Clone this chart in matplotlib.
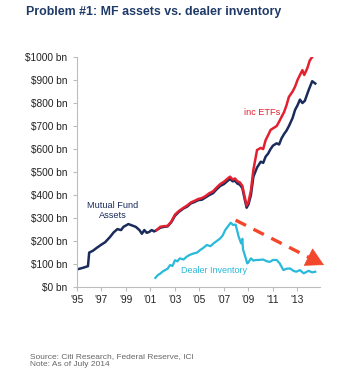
import matplotlib
matplotlib.use("Agg")
import matplotlib.pyplot as plt

plt.rcParams['font.family'] = ['Liberation Sans', 'DejaVu Sans']

# ---------------- data ----------------
mf_years = [1995.0, 1995.5, 1995.9, 1996.0, 1996.3, 1996.6, 1997.0, 1997.3, 1997.7, 1998.0,
            1998.3, 1998.6, 1998.8, 1999.2, 1999.5, 1999.8, 2000.1, 2000.3, 2000.5, 2000.7,
            2000.9, 2001.1, 2001.3, 2001.5, 2001.8, 2002.1, 2002.4, 2002.7, 2003.0, 2003.3,
            2003.7, 2004.0, 2004.3, 2004.6, 2004.9, 2005.2, 2005.5, 2005.8, 2006.1, 2006.4,
            2006.7, 2007.0, 2007.3, 2007.5, 2007.7, 2007.9, 2008.1, 2008.3, 2008.5, 2008.7,
            2008.85, 2009.0, 2009.2, 2009.4, 2009.7, 2010.0, 2010.2, 2010.4, 2010.6, 2010.8,
            2011.0, 2011.3, 2011.5, 2011.7, 2011.9, 2012.1, 2012.3, 2012.6, 2012.8, 2013.0,
            2013.2, 2013.4, 2013.6, 2013.9, 2014.2, 2014.45]
mf_values = [77, 84, 91, 150, 158, 170, 185, 195, 218, 238,
             252, 248, 262, 274, 268, 262, 248, 232, 248, 236,
             240, 248, 242, 248, 258, 262, 264, 282, 310, 326,
             342, 350, 364, 370, 378, 380, 390, 400, 408, 425,
             440, 448, 462, 470, 460, 462, 450, 445, 430, 380,
             345, 360, 400, 480, 520, 545, 540, 567, 580, 600,
             615, 625, 620, 647, 665, 680, 700, 735, 770, 790,
             815, 800, 810, 855, 895, 885]

etf_years = [2001.5, 2001.8, 2002.1, 2002.4, 2002.7, 2003.0, 2003.3, 2003.7, 2004.0, 2004.3,
             2004.6, 2004.9, 2005.2, 2005.5, 2005.8, 2006.1, 2006.4, 2006.7, 2007.0, 2007.3,
             2007.5, 2007.7, 2007.9, 2008.1, 2008.3, 2008.5, 2008.7, 2008.85, 2009.0, 2009.2,
             2009.4, 2009.7, 2010.0, 2010.2, 2010.4, 2010.6, 2010.8, 2011.0, 2011.3, 2011.5,
             2011.7, 2011.9, 2012.1, 2012.3, 2012.6, 2012.8, 2013.0, 2013.2, 2013.4, 2013.55,
             2013.8, 2014.0, 2014.2]
etf_values = [248, 262, 265, 266, 285, 315, 330, 345, 355, 368,
              375, 383, 387, 396, 408, 416, 433, 448, 458, 472,
              480, 468, 472, 460, 455, 440, 390, 355, 370, 420,
              510, 596, 605, 600, 639, 660, 683, 690, 700, 719,
              740, 760, 790, 827, 850, 871, 900, 922, 943, 922,
              951, 985, 1000]

dealer_years = [2001.4, 2001.6, 2001.8, 2002.0, 2002.2, 2002.4, 2002.6, 2002.8, 2003.0, 2003.2,
                2003.4, 2003.7, 2003.95, 2004.2, 2004.5, 2004.8, 2005.05, 2005.3, 2005.6, 2005.9,
                2006.15, 2006.4, 2006.7, 2006.9, 2007.1, 2007.3, 2007.55, 2007.75, 2007.95, 2008.2,
                2008.4, 2008.5, 2008.55, 2008.7, 2008.9, 2009.0, 2009.2, 2009.4, 2009.6, 2009.85,
                2010.2, 2010.5, 2010.75, 2011.0, 2011.3, 2011.55, 2011.85, 2012.1, 2012.4, 2012.7,
                2012.9, 2013.2, 2013.5, 2013.7, 2013.9, 2014.2, 2014.45]
dealer_values = [40, 52, 59, 68, 74, 80, 96, 92, 117, 112,
                 125, 120, 132, 140, 146, 150, 161, 170, 183, 178,
                 190, 200, 212, 225, 248, 262, 280, 270, 272, 219,
                 190, 210, 165, 139, 103, 108, 125, 115, 118, 118,
                 120, 112, 110, 118, 118, 103, 74, 80, 81, 70,
                 67, 74, 60, 65, 71, 64, 67]

y_ticks = [0, 100, 200, 300, 400, 500, 600, 700, 800, 900, 1000]
y_labels = ['$%d bn' % v for v in y_ticks]
x_ticks = [1995, 1997, 1999, 2001, 2003, 2005, 2007, 2009, 2011, 2013]
x_labels = ["'95", "'97", "'99", "'01", "'03", "'05", "'07", "'09", "'11", "'13"]

trend_start = (2007.95, 291)
trend_end = (2015.16, 96)

# ---------------- colours ----------------
NAVY = '#1b2c5c'
RED = '#e3202f'
CYAN = '#29b9da'
ARROW = '#f2472b'
GRID = '#bdbdbd'

fig = plt.figure(figsize=(3.45, 3.88), dpi=100)
ax = fig.add_axes([0.223, 0.260, 0.705, 0.593])

ax.plot(mf_years, mf_values, color=NAVY, lw=1.8, solid_joinstyle='round')
ax.plot(etf_years, etf_values, color=RED, lw=1.8, solid_joinstyle='round')
ax.plot(dealer_years, dealer_values, color=CYAN, lw=1.6, solid_joinstyle='round')

ax.set_xlim(1995, 2014.85)
ax.set_ylim(0, 1000)

# dashed trend arrow
fx = 0.85
mid = (trend_start[0] + fx * (trend_end[0] - trend_start[0]),
       trend_start[1] + fx * (trend_end[1] - trend_start[1]))
ax.plot([trend_start[0], mid[0]], [trend_start[1], mid[1]], color=ARROW, lw=2.4,
        ls=(0, (3.5, 2.5)), clip_on=False, solid_capstyle='butt')
ax.annotate('', xy=trend_end, xytext=mid,
            arrowprops=dict(arrowstyle='-|>,head_length=1.0,head_width=0.55',
                            color=ARROW, lw=0.5, mutation_scale=12, shrinkA=0, shrinkB=0),
            annotation_clip=False)

# labels
ax.text(1997.95, 333, 'Mutual Fund\nAssets', color=NAVY, fontsize=6.6, ha='center',
        va='center', linespacing=1.15)
ax.text(2010.1, 757, 'inc ETFs', color=RED, fontsize=6.6, ha='center', va='center')
ax.text(2006.2, 72, 'Dealer Inventory', color=CYAN, fontsize=6.5, ha='center', va='center')

# axes styling
for s in ['top', 'right']:
    ax.spines[s].set_visible(False)
for s in ['left', 'bottom']:
    ax.spines[s].set_color(GRID)
    ax.spines[s].set_linewidth(0.8)
ax.set_yticks(y_ticks)
ax.set_yticklabels(y_labels)
ax.set_xticks(x_ticks)
ax.set_xticklabels(x_labels)
ax.tick_params(axis='both', colors=GRID, length=3, width=0.8, labelsize=7.3,
               labelcolor='#222222', pad=2)
ax.tick_params(axis='y', pad=4)
ax.tick_params(axis='x', pad=3)

fig.text(0.075, 0.968, 'Problem #1: MF assets vs. dealer inventory', fontsize=8.9,
         fontweight='bold', color='#1f3a68', ha='left', va='center')
fig.text(0.087, 0.072, 'Source: Citi Research, Federal Reserve, ICI\nNote: As of July 2014',
         fontsize=6.0, color='#666666', ha='left', va='center', linespacing=1.2)

fig.savefig('out.png', dpi=100)
